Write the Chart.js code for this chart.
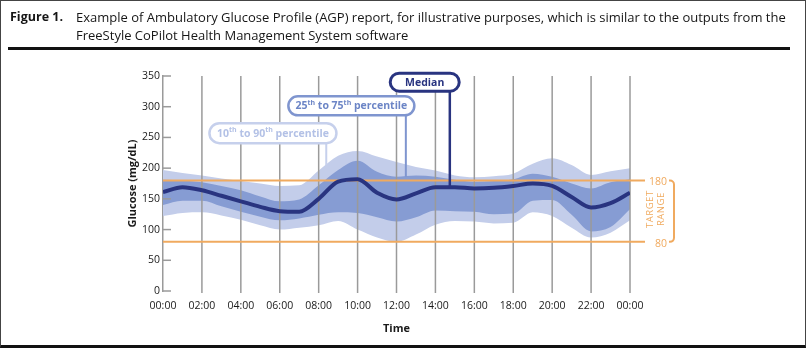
<!DOCTYPE html>
<html>
<head>
<meta charset="utf-8">
<script src="https://cdn.jsdelivr.net/npm/chart.js@4.4.1/dist/chart.umd.min.js"></script>
<style>
  html, body { margin: 0; padding: 0; background: #fff; }
  #fig { position: relative; width: 806px; height: 348px; overflow: hidden; font-family: "Open Sans", sans-serif; color: #161616; }
  #agp { position: absolute; left: 0; top: 0; }
  .cap { position: absolute; top: 8px; font-size: 13px; line-height: 18px; white-space: nowrap; }
  #capNum { left: 10px; font-weight: bold; font-size: 12.5px; }
  #capText { left: 76px; }
  #rule { position: absolute; left: 8px; top: 47px; width: 782px; height: 3px; background: #111; }
  #frame { position: absolute; left: 0; top: 0; width: 806px; height: 348px; box-sizing: border-box;
           border: 1px solid #444; border-bottom: 3px solid #111; pointer-events: none; }
</style>
</head>
<body>
<div id="fig">
  <canvas id="agp" width="806" height="348"></canvas>
  <div class="cap" id="capNum">Figure 1.</div>
  <div class="cap" id="capText">Example of Ambulatory Glucose Profile (AGP) report, for illustrative purposes, which is similar to the outputs from the<br>FreeStyle CoPilot Health Management System software</div>
  <div id="rule"></div>
  <div id="frame"></div>
</div>
<script>
// hourly profile, 00:00 .. 24:00
var hours = [0,1,2,3,4,5,6,7,8,9,10,11,12,13,14,15,16,17,18,19,20,21,22,23,24];
var timeLabels = ["00:00","02:00","04:00","06:00","08:00","10:00","12:00","14:00","16:00","18:00","20:00","22:00","00:00"];

var p90    = [197,192,188,183,179,175,171,172,196,220,228,219,210,202,196,188,185,187,191,207,216,205,189,195,200];
var p75    = [181,180,177,171,164,154,146,149,172,197,212,194,186,188,186,181,178,179,182,191,186,175,167,177,182];
var median = [161,169,164,155,146,137,130,129,150,178,182,160,149,159,169,169,167,168,171,175,171,153,136,143,160];
var p25    = [140,147,147,138,129,121,115,118,124,128,127,120,113,120,131,130,129,125,126,147,148,124,97,104,133];
var p10    = [122,127,128,123,116,107,100,103,107,114,100,87,80,92,108,114,113,110,111,128,122,103,87,95,115];

var targetRange = [80, 180];

var NAVY = '#293480', MID = '#869cd3', LIGHT = '#c3cdea', ORANGE = '#f0aa5f', GRID = '#9a9a9a';
var FONT = '"Open Sans", sans-serif';

function pts(arr) {
  return arr.map(function (v, i) { return { x: hours[i], y: v }; });
}

// callouts: box centre and leader given in axis units (hours, mg/dL)
var callouts = [
  { parts: [['10'], ['th', 1], [' to 90'], ['th', 1], [' percentile']], hx: 5.65, vy: 257, w: 127, h: 20,
    leadX: 8.39, leadTo: 205, stroke: '#c6d0ec', text: '#b3c1e6', lw: 2.5 },
  { parts: [['25'], ['th', 1], [' to 75'], ['th', 1], [' percentile']], hx: 9.68, vy: 301.5, w: 126, h: 19,
    leadX: 12.48, leadTo: 186, stroke: '#7f95cf', text: '#6c85c6', lw: 2.5 },
  { parts: [['Median']], hx: 13.45, vy: 340, w: 69, h: 18,
    leadX: 14.74, leadTo: 169, stroke: NAVY, text: NAVY, lw: 3 }
];

function roundBox(ctx, x, y, w, h, r) {
  ctx.beginPath();
  ctx.moveTo(x + r, y);
  ctx.lineTo(x + w - r, y);
  ctx.arc(x + w - r, y + r, r, -Math.PI / 2, 0);
  ctx.lineTo(x + w, y + h - r);
  ctx.arc(x + w - r, y + h - r, r, 0, Math.PI / 2);
  ctx.lineTo(x + r, y + h);
  ctx.arc(x + r, y + h - r, r, Math.PI / 2, Math.PI);
  ctx.lineTo(x, y + r);
  ctx.arc(x + r, y + r, r, Math.PI, Math.PI * 1.5);
  ctx.closePath();
}

var agpOverlay = {
  id: 'agpOverlay',
  // hour lines, y ticks and target lines sit above the bands but under the median
  beforeDatasetDraw: function (chart, args) {
    if (args.index !== 0) return;
    var ctx = chart.ctx, a = chart.chartArea, x = chart.scales.x, y = chart.scales.y;
    ctx.save();
    ctx.strokeStyle = GRID;
    ctx.lineWidth = 1.5;
    x.ticks.forEach(function (t) {
      var px = x.getPixelForValue(t.value);
      if (t.value === 0) return;
      ctx.beginPath(); ctx.moveTo(px, a.top); ctx.lineTo(px, a.bottom + 2); ctx.stroke();
    });
    y.ticks.forEach(function (t) {
      var py = y.getPixelForValue(t.value);
      ctx.beginPath(); ctx.moveTo(a.left, py); ctx.lineTo(a.left + 8, py); ctx.stroke();
    });
    ctx.strokeStyle = ORANGE;
    ctx.lineWidth = 2;
    targetRange.forEach(function (v) {
      var py = y.getPixelForValue(v);
      ctx.beginPath(); ctx.moveTo(a.left, py); ctx.lineTo(a.right + 15, py); ctx.stroke();
    });
    ctx.restore();
  },
  afterDraw: function (chart) {
    var ctx = chart.ctx, a = chart.chartArea, x = chart.scales.x, y = chart.scales.y;
    ctx.save();

    // target range labels and bracket
    var yHi = y.getPixelForValue(targetRange[1]), yLo = y.getPixelForValue(targetRange[0]);
    ctx.fillStyle = ORANGE;
    ctx.font = '10.5px ' + FONT;
    ctx.textAlign = 'right';
    ctx.textBaseline = 'middle';
    ctx.fillText(String(targetRange[1]), a.right + 37, yHi + 2);
    ctx.fillText(String(targetRange[0]), a.right + 37, yLo + 2);
    var bx = a.right + 44, r = 4;
    ctx.strokeStyle = ORANGE;
    ctx.lineWidth = 2;
    ctx.beginPath();
    ctx.moveTo(a.right + 39, yHi);
    ctx.arcTo(bx, yHi, bx, yHi + r, r);
    ctx.lineTo(bx, yLo - r);
    ctx.arcTo(bx, yLo, bx - r, yLo, r);
    ctx.lineTo(a.right + 39, yLo);
    ctx.stroke();
    var mid = (yHi + yLo) / 2 - 2;
    ctx.font = '9.5px ' + FONT;
    ctx.textAlign = 'center';
    ctx.letterSpacing = '0.5px';
    [['TARGET', 20], ['RANGE', 31.5]].forEach(function (t) {
      ctx.save();
      ctx.translate(a.right + t[1], mid);
      ctx.rotate(-Math.PI / 2);
      ctx.fillText(t[0], 0, 0);
      ctx.restore();
    });
    ctx.letterSpacing = '0px';

    // percentile / median callouts
    callouts.forEach(function (c) {
      var cx = x.getPixelForValue(c.hx), cy = y.getPixelForValue(c.vy);
      var left = cx - c.w / 2, top = cy - c.h / 2;
      var lx = x.getPixelForValue(c.leadX);
      ctx.strokeStyle = c.stroke;
      ctx.lineWidth = c.lw - 0.5;
      ctx.beginPath(); ctx.moveTo(lx, top + c.h); ctx.lineTo(lx, y.getPixelForValue(c.leadTo)); ctx.stroke();
      ctx.lineWidth = c.lw;
      roundBox(ctx, left, top, c.w, c.h, c.h / 2);
      ctx.fillStyle = '#fff';
      ctx.fill();
      ctx.stroke();

      // text with superscript "th"
      var big = 'bold 10.5px ' + FONT, small = 'bold 7px ' + FONT;
      var total = 0;
      c.parts.forEach(function (p) { ctx.font = p[1] ? small : big; total += ctx.measureText(p[0]).width; });
      var tx = cx - total / 2;
      ctx.fillStyle = c.text;
      ctx.textAlign = 'left';
      ctx.textBaseline = 'middle';
      c.parts.forEach(function (p) {
        ctx.font = p[1] ? small : big;
        ctx.fillText(p[0], tx, p[1] ? cy - 3 : cy + 0.5);
        tx += ctx.measureText(p[0]).width;
      });
    });
    ctx.restore();
  }
};

var band = { pointRadius: 0, borderWidth: 0, cubicInterpolationMode: 'monotone' };

new Chart(document.getElementById('agp'), {
  type: 'line',
  data: {
    datasets: [
      { label: 'Median', data: pts(median), borderColor: NAVY, borderWidth: 4, pointRadius: 0,
        cubicInterpolationMode: 'monotone', fill: false },
      Object.assign({ label: '75th', data: pts(p75), backgroundColor: MID, fill: '+1' }, band),
      Object.assign({ label: '25th', data: pts(p25), fill: false }, band),
      Object.assign({ label: '90th', data: pts(p90), backgroundColor: LIGHT, fill: '+1' }, band),
      Object.assign({ label: '10th', data: pts(p10), fill: false }, band)
    ]
  },
  options: {
    responsive: false,
    animation: false,
    devicePixelRatio: 1,
    layout: { padding: { left: 122, right: 176, top: 76, bottom: 9 } },
    plugins: { legend: { display: false }, tooltip: { enabled: false } },
    scales: {
      x: {
        type: 'linear', min: 0, max: 24,
        afterFit: function (s) { s.height = 48; },
        grid: { display: false },
        border: { display: false },
        ticks: {
          stepSize: 2, autoSkip: false, maxRotation: 0, padding: 1,
          color: '#1a1a1a', font: { family: FONT, size: 10.5 },
          callback: function (v, i) { return timeLabels[i]; }
        },
        title: { display: true, text: 'Time', color: '#1a1a1a', font: { family: FONT, size: 11, weight: 'bold' } }
      },
      y: {
        min: 0, max: 350,
        afterFit: function (s) { s.width = 41; },
        grid: { drawOnChartArea: false, drawTicks: false },
        border: { display: true, color: GRID, width: 1.5 },
        ticks: { stepSize: 50, padding: 3, color: '#1a1a1a', font: { family: FONT, size: 10.5 } },
        title: { display: true, text: 'Glucose (mg/dL)', color: '#1a1a1a', font: { family: FONT, size: 11, weight: 'bold' } }
      }
    }
  },
  plugins: [agpOverlay]
});
</script>
</body>
</html>
